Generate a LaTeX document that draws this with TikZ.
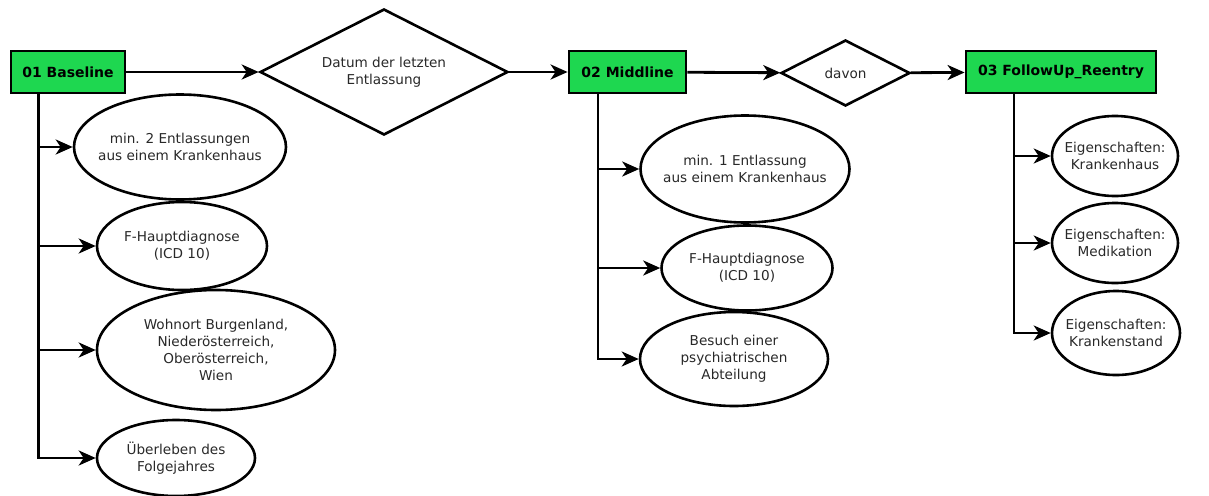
\documentclass[tikz,border=0pt]{standalone}
\usepackage{fontspec}
\setmainfont{DejaVu Sans}
\usetikzlibrary{shapes.geometric,arrows.meta}
\definecolor{stagegreen}{RGB}{30,215,80}
\definecolor{txtgray}{RGB}{40,40,40}
\newcommand{\critfont}{\fontsize{13.6}{17}\selectfont}
\tikzset{
  stagebox/.style={draw, fill=stagegreen, line width=2.8pt, inner sep=0pt,
    minimum height=42pt, font=\fontsize{14}{16}\selectfont\bfseries},
  crit/.style={draw, ellipse, line width=2.6pt, inner sep=-14pt, align=center,
    text=txtgray, font=\critfont},
  gate/.style={draw, diamond, aspect=2, line width=2.6pt, inner sep=0pt,
    align=center, text=txtgray, font=\critfont},
  flow/.style={line width=2.8pt, -{Stealth[length=17pt,width=15pt,inset=5pt]}}
}

\begin{document}
\begin{tikzpicture}[x=1pt,y=-1pt]
\useasboundingbox (0,0) rectangle (1209,495);
% stages and gates
\node[stagebox, minimum width=114pt] (base) at (68,72) {01 Baseline};
\node[gate, minimum width=248pt, minimum height=126pt] (datum) at (384,72) {Datum der letzten\\Entlassung};
\node[stagebox, minimum width=117pt] (mid) at (627.5,72) {02 Middline};
\node[gate, minimum width=129pt, minimum height=66pt] (davon) at (845.5,73) {davon};
\node[stagebox, minimum width=190pt] (fup) at (1061,72) {03 FollowUp\_Reentry};
\draw[flow] (base) -- (datum);
\draw[flow] (datum) -- (mid);
\draw[flow] (mid) -- (davon);
\draw[flow] (davon) -- (fup);
% baseline criteria
\coordinate (tb) at (38.7,92.7);
\node[crit, minimum width=212pt, minimum height=105pt] (b1) at (180,147) {min. 2 Entlassungen\\aus einem Krankenhaus};
\node[crit, minimum width=170pt, minimum height=88pt] (b2) at (182,246) {F-Hauptdiagnose\\(ICD 10)};
\node[crit, minimum width=238pt, minimum height=120pt] (b3) at (216,350) {Wohnort Burgenland,\\Niederösterreich,\\Oberösterreich,\\Wien};
\node[crit, minimum width=158pt, minimum height=76pt] (b4) at (176,458) {Überleben des\\Folgejahres};
\foreach \e in {b1,b2,b3,b4}
  \draw[flow] (tb) |- (\e.west);
% middline criteria
\coordinate (tm) at (598,92.7);
\node[crit, minimum width=209pt, minimum height=107pt] (m1) at (745,169) {min. 1 Entlassung\\aus einem Krankenhaus};
\node[crit, minimum width=171pt, minimum height=85pt] (m2) at (747,268) {F-Hauptdiagnose\\(ICD 10)};
\node[crit, minimum width=188pt, minimum height=94pt] (m3) at (734,359) {Besuch einer\\psychiatrischen\\Abteilung};
\foreach \e in {m1,m2,m3}
  \draw[flow] (tm) |- (\e.west);
% follow-up properties
\coordinate (tf) at (1014,92.7);
\node[crit, minimum width=126pt, minimum height=80pt] (f1) at (1115,156) {Eigenschaften:\\Krankenhaus};
\node[crit, minimum width=126pt, minimum height=80pt] (f2) at (1115,243) {Eigenschaften:\\Medikation};
\node[crit, minimum width=128pt, minimum height=84pt] (f3) at (1116,333) {Eigenschaften:\\Krankenstand};
\foreach \e in {f1,f2,f3}
  \draw[flow] (tf) |- (\e.west);
\end{tikzpicture}
\end{document}
